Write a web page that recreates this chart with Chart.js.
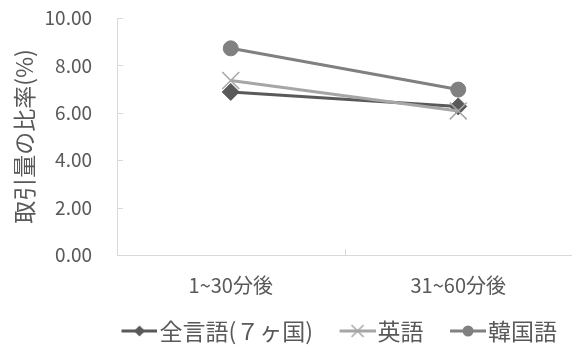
<!DOCTYPE html>
<html>
<head>
<meta charset="utf-8">
<script src="https://cdn.jsdelivr.net/npm/chart.js@4"></script>
<style>
  html, body { margin: 0; padding: 0; background: #fff; }
  #wrap { width: 572px; height: 347px; position: relative; }
</style>
</head>
<body>
<div id="wrap"><canvas id="myChart"></canvas></div>
<script>
'use strict';
// data
let categories = ['1~30分後', '31~60分後'];
let seriesNames = ['全言語(７ヶ国)', '英語', '韓国語'];
let allLangValues = [6.88, 6.27];
let englishValues = [7.36, 6.08];
let koreanValues = [8.72, 6.98];
let yTicks = [0, 2, 4, 6, 8, 10];

let fontFamily = "'Noto Sans CJK JP', 'Noto Sans', sans-serif";
let textColor = '#595959';
let axisColor = '#d9d9d9';

let colors = ['#595959', '#a6a6a6', '#808080'];
let styles = ['rectRot', 'crossRot', 'circle'];

// legend swatch: short line with the marker on it, blank space on the left
// gives the gap between legend items
let swatchW = 68;
function makeSwatch(color, style) {
    let c = document.createElement('canvas');
    c.width = swatchW;
    c.height = 16;
    let ctx = c.getContext('2d');
    let x0 = swatchW - 36;
    let cx = x0 + 18;
    ctx.strokeStyle = color;
    ctx.fillStyle = color;
    ctx.lineWidth = 3;
    ctx.beginPath();
    ctx.moveTo(x0, 8);
    ctx.lineTo(swatchW, 8);
    ctx.stroke();
    ctx.beginPath();
    if (style === 'rectRot') {
        ctx.moveTo(cx, 2.5); ctx.lineTo(cx + 5.5, 8); ctx.lineTo(cx, 13.5); ctx.lineTo(cx - 5.5, 8);
        ctx.closePath();
        ctx.fill();
    } else if (style === 'circle') {
        ctx.arc(cx, 8, 5.5, 0, Math.PI * 2);
        ctx.fill();
    } else {
        ctx.lineWidth = 1.5;
        ctx.moveTo(cx - 6, 2); ctx.lineTo(cx + 6, 14);
        ctx.moveTo(cx + 6, 2); ctx.lineTo(cx - 6, 14);
        ctx.stroke();
    }
    return c;
}
let swatches = [];
for (let i = 0; i < colors.length; i++) {
    swatches.push(makeSwatch(colors[i], styles[i]));
}

let axisDecor = {
    id: 'axisDecor',
    afterLayout(chart) {
        // legend sits a bit right of the canvas centre in the original
        let lg = chart.legend;
        lg.left += 40;
        lg.right += 40;
    },
    // small inside tick marks like the original axes
    afterDraw(chart) {
        let ctx = chart.ctx;
        let x = chart.scales.x;
        let y = chart.scales.y;
        ctx.save();
        ctx.strokeStyle = axisColor;
        ctx.lineWidth = 1;
        ctx.beginPath();
        for (let i = 0; i < yTicks.length; i++) {
            let py = Math.round(y.getPixelForValue(yTicks[i])) + 0.5;
            ctx.moveTo(x.left, py);
            ctx.lineTo(x.left + 6, py);
        }
        for (let i = 0; i < categories.length - 1; i++) {
            let px = Math.round((x.getPixelForValue(i) + x.getPixelForValue(i + 1)) / 2) + 0.5;
            ctx.moveTo(px, y.bottom);
            ctx.lineTo(px, y.bottom - 6);
        }
        ctx.stroke();
        ctx.restore();
    }
};

function dataset(i, values) {
    return {
        label: seriesNames[i],
        data: values,
        borderColor: colors[i],
        backgroundColor: colors[i],
        borderWidth: 3,
        pointStyle: styles[i],
        pointRadius: styles[i] === 'crossRot' ? 12 : (styles[i] === 'circle' ? 7.5 : 8.5),
        pointBorderWidth: styles[i] === 'crossRot' ? 1.5 : 1,
        pointBackgroundColor: colors[i],
        pointBorderColor: colors[i],
        tension: 0,
        order: 3 - i
    };
}

let ctx = document.getElementById('myChart').getContext('2d');
let myChart = new Chart(ctx, {
    type: 'line',
    data: {
        labels: categories,
        datasets: [
            dataset(0, allLangValues),
            dataset(1, englishValues),
            dataset(2, koreanValues)
        ]
    },
    options: {
        responsive: true,
        maintainAspectRatio: false,
        animation: false,
        layout: {
            autoPadding: false,
            padding: { top: 18, right: -4, left: 0, bottom: -5.5 }
        },
        plugins: {
            tooltip: { enabled: false },
            legend: {
                position: 'bottom',
                labels: {
                    usePointStyle: true,
                    pointStyleWidth: swatchW - 19,
                    boxHeight: 16,
                    padding: 4,
                    color: textColor,
                    font: { family: fontFamily, size: 23 },
                    generateLabels(chart) {
                        return chart.data.datasets.map(function (ds, i) {
                            return {
                                text: ds.label,
                                pointStyle: swatches[i],
                                fillStyle: colors[i],
                                strokeStyle: colors[i],
                                fontColor: textColor,
                                lineWidth: 0,
                                hidden: false,
                                datasetIndex: i
                            };
                        });
                    }
                }
            }
        },
        scales: {
            x: {
                offset: true,
                afterFit(scale) {
                    scale.height = 60.5;
                    scale.paddingLeft = 0;
                    scale.paddingRight = 0;
                },
                grid: { display: false, drawTicks: false },
                border: { display: true, color: axisColor, width: 1 },
                ticks: {
                    color: textColor,
                    padding: 18,
                    maxRotation: 0,
                    font: { family: fontFamily, size: 20 }
                }
            },
            y: {
                min: 0,
                max: 10,
                afterBuildTicks(scale) {
                    scale.ticks = yTicks.map(v => ({ value: v }));
                },
                afterFit(scale) {
                    scale.width = 117;
                    scale.paddingTop = 0;
                    scale.paddingBottom = 0;
                },
                grid: { display: false, drawTicks: false },
                border: { display: true, color: axisColor, width: 1 },
                ticks: {
                    color: textColor,
                    padding: 25,
                    autoSkip: false,
                    font: { family: fontFamily, size: 19 },
                    callback: v => v.toFixed(2)
                },
                title: {
                    display: true,
                    text: '取引量の比率(%)',
                    color: textColor,
                    padding: { top: 10, bottom: 0 },
                    font: { family: fontFamily, size: 23 }
                }
            }
        }
    },
    plugins: [axisDecor]
});
</script>
</body>
</html>
